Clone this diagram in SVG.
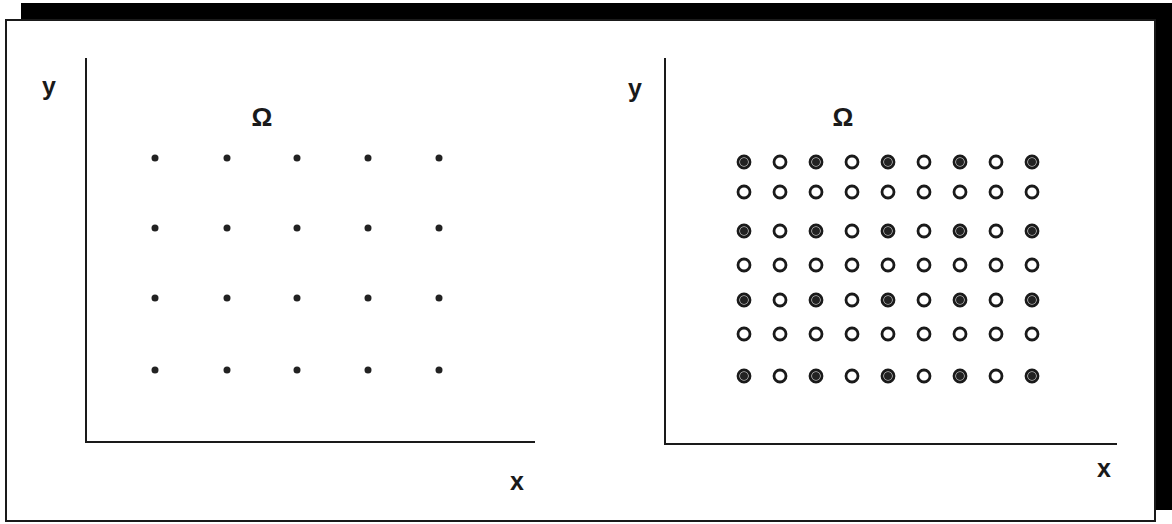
<svg xmlns="http://www.w3.org/2000/svg" width="1172" height="524" viewBox="0 0 1172 524">
<style>
.lbl{font-family:"Liberation Sans",Arial,sans-serif;font-weight:bold;fill:#1a1a1a;text-anchor:middle}
.ax{stroke:#1a1a1a;stroke-width:2;fill:none}
.o{fill:none;stroke:#1a1a1a;stroke-width:2.8}
.s{fill:#222}
</style>
<defs>
<g id="oc"><circle r="6" class="o"/></g>
<g id="fc"><circle r="6" class="o"/><circle r="4" class="s"/></g>
</defs>
<rect x="0" y="0" width="1172" height="524" fill="#fff"/>
<rect x="21" y="3" width="1151" height="507" fill="#000"/>
<rect x="6" y="20" width="1149" height="501" fill="#fff" stroke="#1a1a1a" stroke-width="2"/>
<g id="connectors">
<polyline class="ax" points="86,58 86,442 535,442"/>
<polyline class="ax" points="665,58 665,444 1117,444"/>
</g>
<g id="left-labels">
<text class="lbl" x="49" y="95" font-size="25">y</text>
<text class="lbl" x="262" y="126" font-size="26">Ω</text>
<text class="lbl" x="517" y="490" font-size="25">x</text>
</g>
<g id="right-labels">
<text class="lbl" x="635" y="97" font-size="25">y</text>
<text class="lbl" x="843" y="126" font-size="26">Ω</text>
<text class="lbl" x="1104" y="477" font-size="25">x</text>
</g>
<g id="left-grid">
<circle class="s" cx="155" cy="158" r="3.5"/><circle class="s" cx="227" cy="158" r="3.5"/><circle class="s" cx="297" cy="158" r="3.5"/><circle class="s" cx="368" cy="158" r="3.5"/><circle class="s" cx="439" cy="158" r="3.5"/>
<circle class="s" cx="155" cy="228" r="3.5"/><circle class="s" cx="227" cy="228" r="3.5"/><circle class="s" cx="297" cy="228" r="3.5"/><circle class="s" cx="368" cy="228" r="3.5"/><circle class="s" cx="439" cy="228" r="3.5"/>
<circle class="s" cx="155" cy="298" r="3.5"/><circle class="s" cx="227" cy="298" r="3.5"/><circle class="s" cx="297" cy="298" r="3.5"/><circle class="s" cx="368" cy="298" r="3.5"/><circle class="s" cx="439" cy="298" r="3.5"/>
<circle class="s" cx="155" cy="370" r="3.5"/><circle class="s" cx="227" cy="370" r="3.5"/><circle class="s" cx="297" cy="370" r="3.5"/><circle class="s" cx="368" cy="370" r="3.5"/><circle class="s" cx="439" cy="370" r="3.5"/>
</g>
<g id="right-grid">
<g transform="translate(0,162)"><use href="#fc" x="744"/><use href="#oc" x="780"/><use href="#fc" x="816"/><use href="#oc" x="852"/><use href="#fc" x="888"/><use href="#oc" x="924"/><use href="#fc" x="960"/><use href="#oc" x="996"/><use href="#fc" x="1032"/></g>
<g transform="translate(0,192)"><use href="#oc" x="744"/><use href="#oc" x="780"/><use href="#oc" x="816"/><use href="#oc" x="852"/><use href="#oc" x="888"/><use href="#oc" x="924"/><use href="#oc" x="960"/><use href="#oc" x="996"/><use href="#oc" x="1032"/></g>
<g transform="translate(0,231)"><use href="#fc" x="744"/><use href="#oc" x="780"/><use href="#fc" x="816"/><use href="#oc" x="852"/><use href="#fc" x="888"/><use href="#oc" x="924"/><use href="#fc" x="960"/><use href="#oc" x="996"/><use href="#fc" x="1032"/></g>
<g transform="translate(0,265)"><use href="#oc" x="744"/><use href="#oc" x="780"/><use href="#oc" x="816"/><use href="#oc" x="852"/><use href="#oc" x="888"/><use href="#oc" x="924"/><use href="#oc" x="960"/><use href="#oc" x="996"/><use href="#oc" x="1032"/></g>
<g transform="translate(0,300)"><use href="#fc" x="744"/><use href="#oc" x="780"/><use href="#fc" x="816"/><use href="#oc" x="852"/><use href="#fc" x="888"/><use href="#oc" x="924"/><use href="#fc" x="960"/><use href="#oc" x="996"/><use href="#fc" x="1032"/></g>
<g transform="translate(0,334)"><use href="#oc" x="744"/><use href="#oc" x="780"/><use href="#oc" x="816"/><use href="#oc" x="852"/><use href="#oc" x="888"/><use href="#oc" x="924"/><use href="#oc" x="960"/><use href="#oc" x="996"/><use href="#oc" x="1032"/></g>
<g transform="translate(0,376)"><use href="#fc" x="744"/><use href="#oc" x="780"/><use href="#fc" x="816"/><use href="#oc" x="852"/><use href="#fc" x="888"/><use href="#oc" x="924"/><use href="#fc" x="960"/><use href="#oc" x="996"/><use href="#fc" x="1032"/></g>
</g>
</svg>
